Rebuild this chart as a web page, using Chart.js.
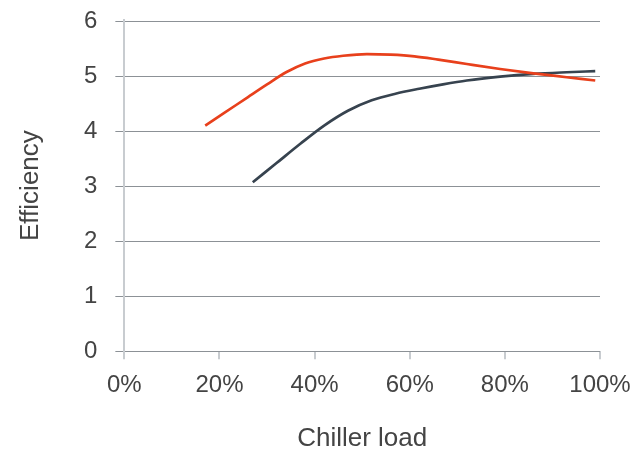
<!DOCTYPE html>
<html>
<head>
<meta charset="utf-8">
<script src="https://cdn.jsdelivr.net/npm/chart.js@4.4.0/dist/chart.umd.min.js"></script>
<style>
  body { margin: 0; background: #fff; }
  #wrap { width: 634px; height: 452px; }
</style>
</head>
<body>
<div id="wrap"><canvas id="myChart" width="634" height="452"></canvas></div>
<script>
const ctx = document.getElementById('myChart');

// values
const orangeLoad = [17, 21, 26, 30, 34, 38, 42, 46, 51, 56, 61, 66, 72, 79, 86, 93, 99];
const orangeEff  = [4.10, 4.33, 4.62, 4.85, 5.07, 5.23, 5.32, 5.37, 5.40, 5.39, 5.36, 5.30, 5.22, 5.13, 5.05, 4.98, 4.92];

const darkLoad = [27, 32, 37, 42, 47, 52, 57, 62, 67, 72, 79, 86, 93, 99];
const darkEff  = [3.07, 3.42, 3.77, 4.10, 4.37, 4.56, 4.68, 4.77, 4.85, 4.92, 4.99, 5.04, 5.07, 5.09];

const xTicks = [0, 20, 40, 60, 80, 100];
const yTicks = [0, 1, 2, 3, 4, 5, 6];

const toPoints = (xs, ys) => xs.map((x, i) => ({ x: x, y: ys[i] }));

const textColor = '#444';
const tickFont = { family: '"Liberation Sans", Arial, sans-serif', size: 24 };
const titleFont = { family: '"Liberation Sans", Arial, sans-serif', size: 26, lineHeight: 1 };

new Chart(ctx, {
  type: 'line',
  data: {
    datasets: [
      {
        label: 'Series A',
        data: toPoints(orangeLoad, orangeEff),
        borderColor: '#e8401c',
        borderWidth: 2.7,
        pointRadius: 0,
        cubicInterpolationMode: 'monotone'
      },
      {
        label: 'Series B',
        data: toPoints(darkLoad, darkEff),
        borderColor: '#37434f',
        borderWidth: 2.7,
        pointRadius: 0,
        cubicInterpolationMode: 'monotone'
      }
    ]
  },
  options: {
    responsive: false,
    animation: false,
    devicePixelRatio: 1,
    layout: { padding: { left: 18, top: 0, bottom: 0, right: 0 } },
    plugins: {
      legend: { display: false },
      tooltip: { enabled: false }
    },
    scales: {
      x: {
        type: 'linear',
        min: 0,
        max: 100,
        afterBuildTicks: (axis) => { axis.ticks = xTicks.map(v => ({ value: v })); },
        // room kept for the "100%" label on the right
        afterFit: (axis) => { axis.paddingRight = 34; },
        ticks: {
          callback: (v) => v + '%',
          color: textColor,
          font: tickFont,
          padding: 12,
          maxRotation: 0
        },
        grid: {
          drawOnChartArea: false,
          drawTicks: true,
          tickLength: 8,
          color: '#c8ccd0',
          lineWidth: 2
        },
        border: { display: false },
        title: {
          display: true,
          text: 'Chiller load',
          color: textColor,
          font: titleFont,
          padding: { top: 14, bottom: 0 }
        }
      },
      y: {
        min: 0,
        max: 6.02,
        afterBuildTicks: (axis) => { axis.ticks = yTicks.map(v => ({ value: v })); },
        afterFit: (axis) => { axis.paddingTop = 20; },
        ticks: {
          color: textColor,
          font: tickFont,
          padding: 18
        },
        grid: {
          color: '#8c9196',
          lineWidth: 1,
          tickLength: 9
        },
        border: { display: true, color: '#c8ccd0', width: 2 },
        title: {
          display: true,
          text: 'Efficiency',
          color: textColor,
          font: titleFont,
          padding: { top: 0, bottom: 22 }
        }
      }
    }
  }
});
</script>
</body>
</html>
